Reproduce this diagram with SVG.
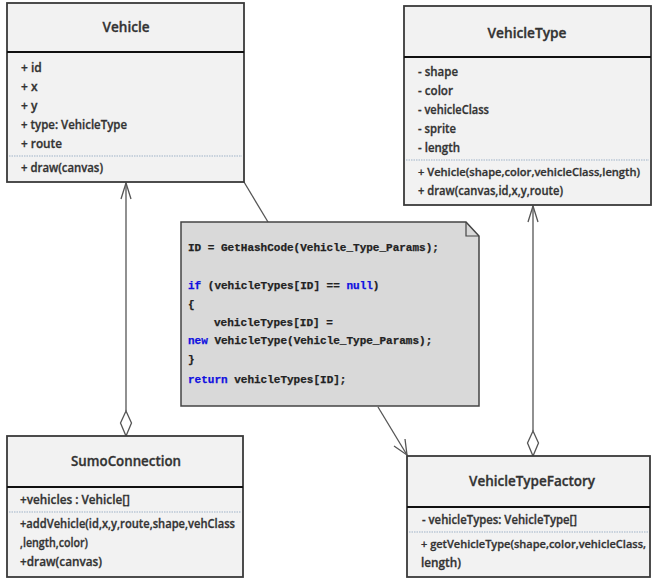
<svg xmlns="http://www.w3.org/2000/svg" width="652" height="578" viewBox="0 0 652 578">
<defs>
<style>
.box{fill:#f2f2f2;stroke:#3a3a3a;stroke-width:1.8}
.sep{stroke:#111;stroke-width:2}
.dot{stroke:#9fb3c8;stroke-width:1;stroke-dasharray:1.5 1}
.t{font-family:"Open Sans","Liberation Sans",sans-serif;font-weight:600;font-size:12px;fill:#333;stroke:#333;stroke-width:0.3}
.s{font-size:11.2px}
.h{font-family:"Open Sans","Liberation Sans",sans-serif;font-weight:600;font-size:14.5px;fill:#333;stroke:#333;stroke-width:0.35;text-anchor:middle}
.c{font-family:"Liberation Mono","DejaVu Sans Mono",monospace;font-weight:bold;font-size:11px;fill:#222;stroke:#222;stroke-width:0.25}
.k{fill:#1010e0;stroke:#1010e0}
.ln{stroke:#555;stroke-width:1.3;fill:none}
.dia{stroke:#555;stroke-width:1.3;fill:#fff}
</style>
</defs>
<g id="connectors">
<line class="ln" x1="126" y1="183" x2="126" y2="411"/>
<polyline class="ln" points="121,199 126,183 131,199"/>
<polygon class="dia" points="126,411 131.5,423 126,436 120.5,423"/>
<line class="ln" x1="533" y1="206" x2="533" y2="431"/>
<polyline class="ln" points="528,222 533,206 538,222"/>
<polygon class="dia" points="533,431 538.5,443 533,456 527.5,443"/>
<line class="ln" x1="244" y1="182" x2="268" y2="222"/>
<line class="ln" x1="378" y1="407" x2="407" y2="455"/>
<polyline class="ln" points="394,446 407,455 405,439"/>
</g>
<g id="vehicle">
<rect class="box" x="7" y="3" width="237" height="179"/>
<line class="sep" x1="7" y1="52" x2="244" y2="52"/>
<text class="h" x="126" y="32" textLength="47" lengthAdjust="spacingAndGlyphs">Vehicle</text>
<text class="t" x="21" y="72">+ id</text>
<text class="t" x="21" y="91">+ x</text>
<text class="t" x="21" y="110">+ y</text>
<text class="t" x="21" y="129" textLength="106" lengthAdjust="spacingAndGlyphs">+ type: VehicleType</text>
<text class="t" x="21" y="148" textLength="41" lengthAdjust="spacingAndGlyphs">+ route</text>
<line class="dot" x1="9" y1="156" x2="242" y2="156"/>
<text class="t" x="21" y="172" textLength="82" lengthAdjust="spacingAndGlyphs">+ draw(canvas)</text>
</g>
<g id="vehicletype">
<rect class="box" x="404" y="6" width="247" height="199"/>
<line class="sep" x1="404" y1="57" x2="651" y2="57"/>
<text class="h" x="527" y="38" textLength="79" lengthAdjust="spacingAndGlyphs">VehicleType</text>
<text class="t" x="418" y="76" textLength="40" lengthAdjust="spacingAndGlyphs">- shape</text>
<text class="t" x="418" y="95" textLength="35" lengthAdjust="spacingAndGlyphs">- color</text>
<text class="t" x="418" y="114" textLength="71" lengthAdjust="spacingAndGlyphs">- vehicleClass</text>
<text class="t" x="418" y="133" textLength="38" lengthAdjust="spacingAndGlyphs">- sprite</text>
<text class="t" x="418" y="152" textLength="42" lengthAdjust="spacingAndGlyphs">- length</text>
<line class="dot" x1="406" y1="160" x2="649" y2="160"/>
<text class="t s" x="418" y="176" textLength="222" lengthAdjust="spacingAndGlyphs">+ Vehicle(shape,color,vehicleClass,length)</text>
<text class="t" x="418" y="195" textLength="145" lengthAdjust="spacingAndGlyphs">+ draw(canvas,id,x,y,route)</text>
</g>
<g id="note">
<path d="M181,222 L466,222 L479,236 L479,406 L181,406 Z" fill="#d9d9d9" stroke="#444" stroke-width="1.5"/>
<polyline points="466,222 466,236 479,236" fill="none" stroke="#444" stroke-width="1.2"/>
<text class="c" x="188" y="251">ID = GetHashCode(Vehicle_Type_Params);</text>
<text class="c" x="188" y="289"><tspan class="k">if</tspan> (vehicleTypes[ID] == <tspan class="k">null</tspan>)</text>
<text class="c" x="188" y="308">{</text>
<text class="c" x="214" y="326">vehicleTypes[ID] =</text>
<text class="c" x="188" y="344"><tspan class="k">new</tspan> VehicleType(Vehicle_Type_Params);</text>
<text class="c" x="188" y="363">}</text>
<text class="c" x="188" y="383"><tspan class="k">return</tspan> vehicleTypes[ID];</text>
</g>
<g id="sumoconnection">
<rect class="box" x="7" y="436" width="236" height="141"/>
<line class="sep" x1="7" y1="487" x2="243" y2="487"/>
<text class="h" x="126" y="466" textLength="110" lengthAdjust="spacingAndGlyphs">SumoConnection</text>
<text class="t" x="20" y="504" textLength="110" lengthAdjust="spacingAndGlyphs">+vehicles : Vehicle[]</text>
<line class="dot" x1="9" y1="512" x2="241" y2="512"/>
<text class="t" x="20" y="528" textLength="215" lengthAdjust="spacingAndGlyphs">+addVehicle(id,x,y,route,shape,vehClass</text>
<text class="t" x="20" y="547" textLength="68" lengthAdjust="spacingAndGlyphs">,length,color)</text>
<text class="t" x="20" y="566" textLength="82" lengthAdjust="spacingAndGlyphs">+draw(canvas)</text>
</g>
<g id="vehicletypefactory">
<rect class="box" x="407" y="456" width="243" height="121"/>
<line class="sep" x1="407" y1="507" x2="650" y2="507"/>
<text class="h" x="532" y="486" textLength="126" lengthAdjust="spacingAndGlyphs">VehicleTypeFactory</text>
<text class="t" x="422" y="524" textLength="155" lengthAdjust="spacingAndGlyphs">- vehicleTypes: VehicleType[]</text>
<line class="dot" x1="409" y1="532" x2="648" y2="532"/>
<text class="t s" x="421" y="548" textLength="225" lengthAdjust="spacingAndGlyphs">+ getVehicleType(shape,color,vehicleClass,</text>
<text class="t" x="421" y="567" textLength="40" lengthAdjust="spacingAndGlyphs">length)</text>
</g>
</svg>
